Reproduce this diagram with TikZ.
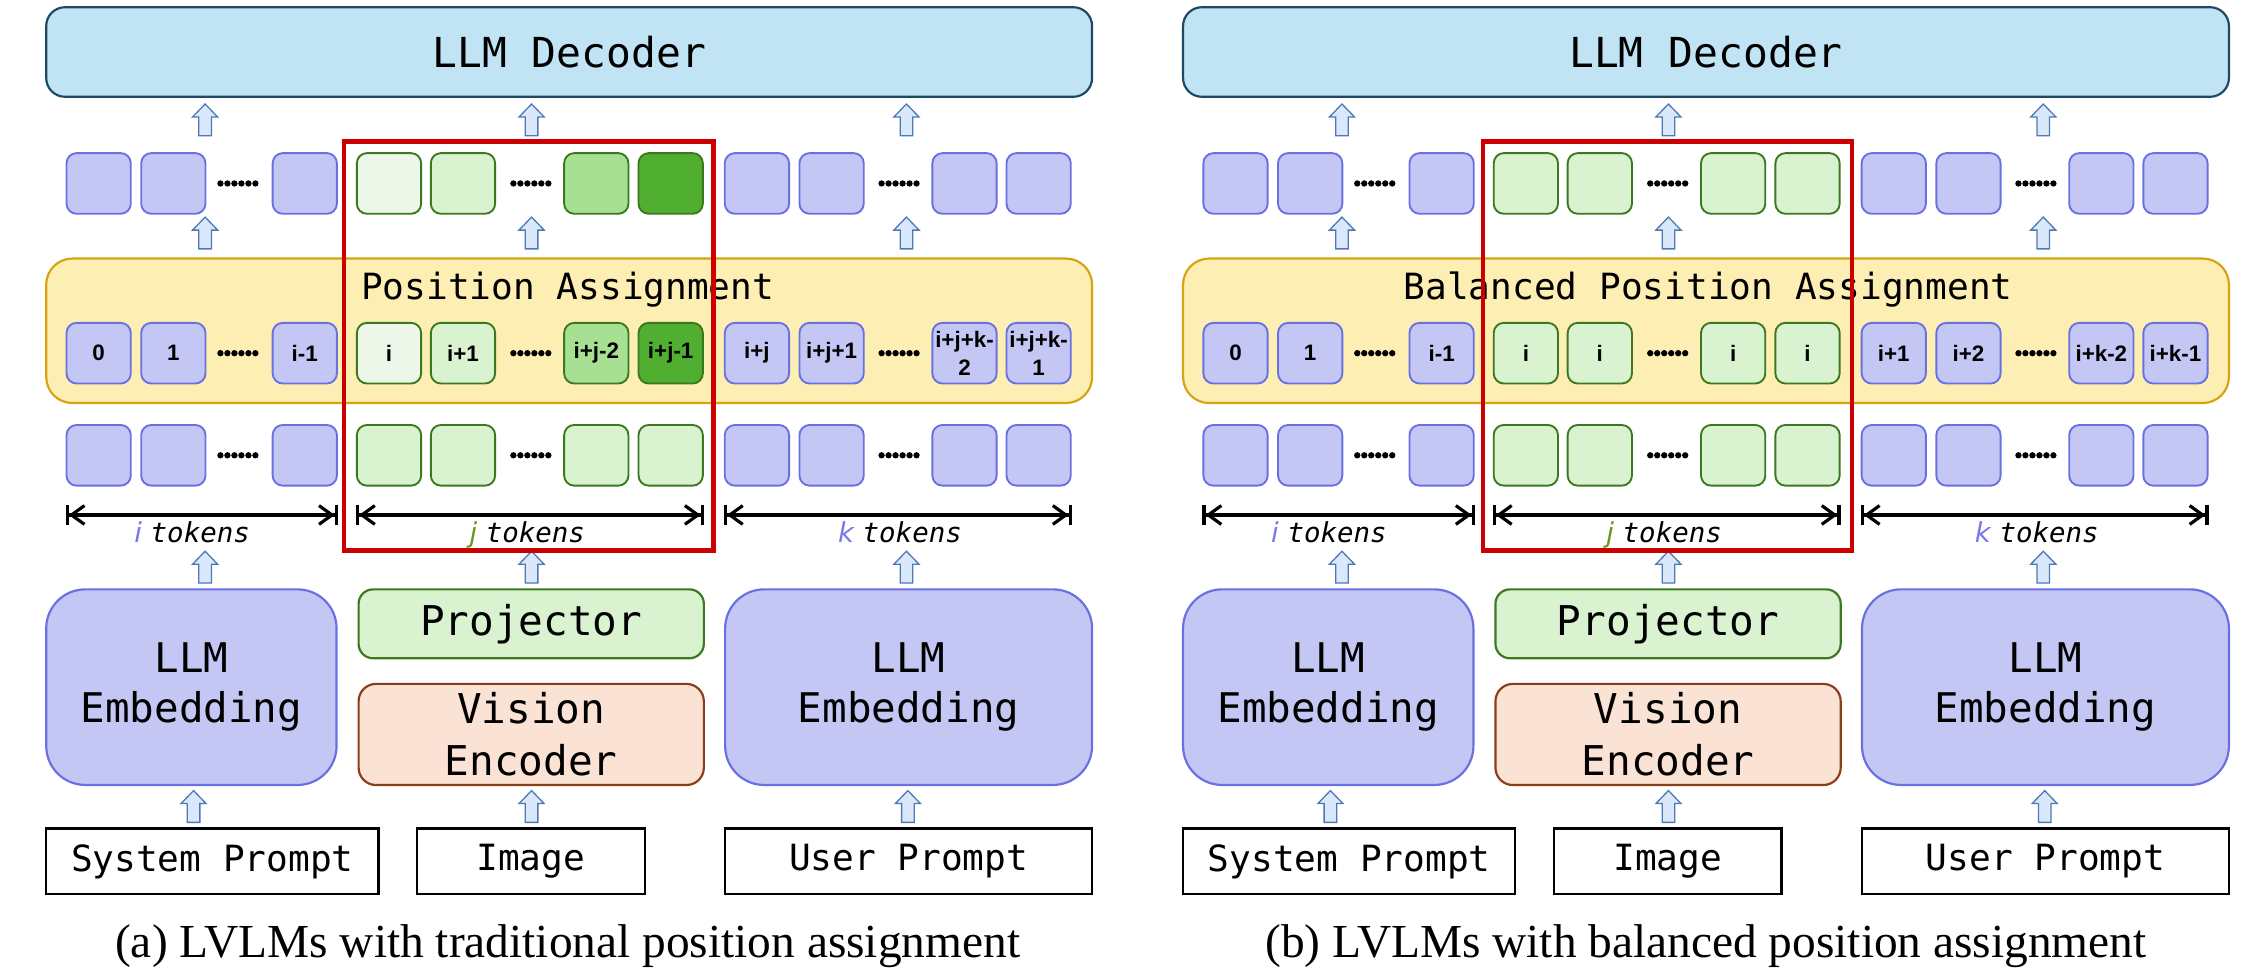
\documentclass[tikz,border=0pt]{standalone}
\usepackage{fontspec}
\setmainfont{Liberation Serif}
\newfontfamily\codefont{DejaVu Sans Mono}[ItalicFont={DejaVu Sans Mono Oblique}]
\newfontfamily\varfont{DejaVu Sans}[ItalicFont={DejaVu Sans Oblique}]
\newfontfamily\posfont{Liberation Sans}
\usetikzlibrary{arrows.meta}

\definecolor{decFill}{RGB}{193,228,244}
\definecolor{decLine}{RGB}{30,72,100}
\definecolor{paFill}{RGB}{253,239,179}
\definecolor{paLine}{RGB}{214,163,18}
\definecolor{tokFill}{RGB}{196,199,243}
\definecolor{tokLine}{RGB}{105,112,225}
\definecolor{grnLine}{RGB}{60,120,30}
\definecolor{grnA}{RGB}{237,247,233}
\definecolor{grnB}{RGB}{217,242,208}
\definecolor{grnC}{RGB}{168,224,147}
\definecolor{grnD}{RGB}{80,174,48}
\definecolor{visFill}{RGB}{250,226,212}
\definecolor{visLine}{RGB}{140,62,22}
\definecolor{arrFill}{RGB}{218,232,252}
\definecolor{arrLine}{RGB}{80,120,180}
\definecolor{boxRed}{RGB}{204,0,0}
\definecolor{iCol}{RGB}{120,120,232}
\definecolor{jCol}{RGB}{110,150,30}

\tikzset{
  pics/dots/.style={code={\foreach \k in {-12.1,-7.26,-2.42,2.42,7.26,12.1} \fill (\k,0) circle[radius=2.2];}},
  pics/uparrow/.style={code={\filldraw[draw=arrLine,fill=arrFill,line width=0.9] (-4.35,-11) -- (-4.35,2) -- (-8.7,2) -- (0,11) -- (8.7,2) -- (4.35,2) -- (4.35,-11) -- cycle;}}
}
\newcommand{\tokword}[2]{{\varfont\itshape\color{#1}#2 }tokens}

\begin{document}
\begin{tikzpicture}[x=1pt,y=1pt,yscale=-1,
    dec/.style={draw=decLine,fill=decFill,line width=1.5,rounded corners=13,minimum width=724,minimum height=62,font=\codefont\fontsize{28.6}{34}\selectfont},
    pabox/.style={draw=paLine,fill=paFill,line width=1.5,rounded corners=18,minimum width=724,minimum height=100},
    patitle/.style={font=\codefont\fontsize{25}{30}\selectfont,anchor=base},
    tok/.style={line width=1.3,rounded corners=7,minimum width=44.5,minimum height=42,inner sep=0,align=center,font=\posfont\bfseries\fontsize{15.5}{19}\selectfont},
    blu/.style={tok,draw=tokLine,fill=tokFill},
    gA/.style={tok,draw=grnLine,fill=grnA},
    gB/.style={tok,draw=grnLine,fill=grnB},
    gC/.style={tok,draw=grnLine,fill=grnC},
    gD/.style={tok,draw=grnLine,fill=grnD},
    dimarr/.style={line width=2.2,{Bar[width=14]Straight Barb[length=9,width=13]}-{Straight Barb[length=9,width=13]Bar[width=14]}},
    toklab/.style={font=\codefont\itshape\fontsize{19}{22}\selectfont,anchor=base},
    emb/.style={draw=tokLine,fill=tokFill,line width=1.5,rounded corners=27,minimum height=135.4,align=center,font=\codefont\fontsize{28.3}{34.8}\selectfont},
    proj/.style={draw=grnLine,fill=grnB,line width=1.5,rounded corners=10,minimum width=239,minimum height=47.7,font=\codefont\fontsize{28.4}{34}\selectfont},
    vis/.style={draw=visLine,fill=visFill,line width=1.5,rounded corners=12,minimum width=239,minimum height=70,inner sep=0,align=center,font=\codefont\fontsize{28.4}{36}\selectfont},
    inbox/.style={draw=black,line width=1.6,minimum height=45.4,font=\codefont\fontsize{25}{30}\selectfont},
    captext/.style={font=\fontsize{32.8}{38}\selectfont,anchor=base},
    redbox/.style={draw=boxRed,line width=3}
  ]
  \useasboundingbox (0,0) rectangle (1568,674);

  % panel frames, both panels
  \foreach \p/\ox in {a/0,b/787}{
    %Shape: Decoder
    \node[dec] (\p dec) at (394+\ox,36) {LLM Decoder};
    %Shape: Position box
    \node[pabox] (\p pa) at (394+\ox,229) {};
    %Shape: Embeddings, projector, encoder
    \node[emb,minimum width=201] (\p embl) at (132.5+\ox,475.7) {LLM\\Embedding};
    \node[proj] (\p proj) at (367.75+\ox,431.85) {Projector};
    \node[vis] (\p vis) at (367.75+\ox,508.45) {Vision\\Encoder};
    \node[emb,minimum width=254] (\p embr) at (629+\ox,475.7) {LLM\\Embedding};
    %Shape: Inputs
    \node[inbox,minimum width=230] (\p sys) at (147+\ox,596.3) {System Prompt};
    \node[inbox,minimum width=157.7] (\p img) at (367.5+\ox,596.3) {Image};
    \node[inbox,minimum width=254] (\p usr) at (629+\ox,596.3) {User Prompt};
    % block arrows
    \foreach \ax [count=\c] in {142,368,627.5}{
      \pic (\p arrA\c) at (\ax+\ox,83) {uparrow};
      \pic (\p arrB\c) at (\ax+\ox,161.3) {uparrow};
      \pic (\p arrC\c) at (\ax+\ox,392.6) {uparrow};
    }
    \foreach \ax [count=\c] in {134,368,628.5}
      \pic (\p arrD\c) at (\ax+\ox,558.3) {uparrow};
    % input tokens
    \foreach \n/\cx/\st in {1/68.3/blu,2/120/blu,3/211/blu,4/269.3/gB,5/320.5/gB,6/412.8/gB,7/464.3/gB,8/524/blu,9/575.7/blu,10/667.7/blu,11/719/blu}
      \node[\st] (\p tok\n) at (\cx+\ox,315.2) {};
    % dots
    \foreach \dx in {164.7,367.5,622.4}
      \foreach \dy in {127,244.5,315.2}
        \pic at (\dx+\ox,\dy) {dots};
    % token counts
    \draw[dimarr] (\p tok1.west |- 0,356.5) -- (\p tok3.east |- 0,356.5);
    \draw[dimarr] (\p tok4.west |- 0,356.5) -- (\p tok7.east |- 0,356.5);
    \draw[dimarr] (\p tok8.west |- 0,356.5) -- (\p tok11.east |- 0,356.5);
    \node[toklab] (\p ilab) at (133+\ox,375.5) {\tokword{iCol}{i}};
    \node[toklab] (\p jlab) at (365+\ox,375.5) {\tokword{jCol}{j}};
    \node[toklab] (\p klab) at (623+\ox,375.5) {\tokword{iCol}{k}};
  }

  % panel (a): traditional positions
  \node[patitle] (apat) at (393,207) {Position Assignment};
  \foreach \n/\cx/\st/\lab in {1/68.3/blu/0, 2/120/blu/1, 3/211/blu/i-1, 4/269.3/gA/i, 5/320.5/gB/i+1, 6/412.8/gC/i+j-2, 7/464.3/gD/i+j-1, 8/524/blu/i+j, 9/575.7/blu/i+j+1, 10/667.7/blu/{i+j+k-\\2}, 11/719/blu/{i+j+k-\\1}}{
    \node[\st] (aout\n) at (\cx,127) {};
    \node[\st] (apos\n) at (\cx,244.5) {\lab};
  }

  % panel (b): balanced positions
  \node[patitle] (bpat) at (1182.5,207.5) {Balanced Position Assignment};
  \foreach \n/\cx/\st/\lab in {1/68.3/blu/0, 2/120/blu/1, 3/211/blu/i-1, 4/269.3/gB/i, 5/320.5/gB/i, 6/412.8/gB/i, 7/464.3/gB/i, 8/524/blu/i+1, 9/575.7/blu/i+2, 10/667.7/blu/i+k-2, 11/719/blu/i+k-1}{
    \node[\st] (bout\n) at (\cx+787,127) {};
    \node[\st] (bpos\n) at (\cx+787,244.5) {\lab};
  }

  %Shape: Rectangle (highlight)
  \draw[redbox] (238.3,98) rectangle (494,381.2);
  \draw[redbox] (1026.5,98) rectangle (1282,381.2);

  % Text Node
  \node[captext] (acap) at (393,663) {(a) LVLMs with traditional position assignment};
  \node[captext] (bcap) at (1181,663) {(b) LVLMs with balanced position assignment};
\end{tikzpicture}
\end{document}
